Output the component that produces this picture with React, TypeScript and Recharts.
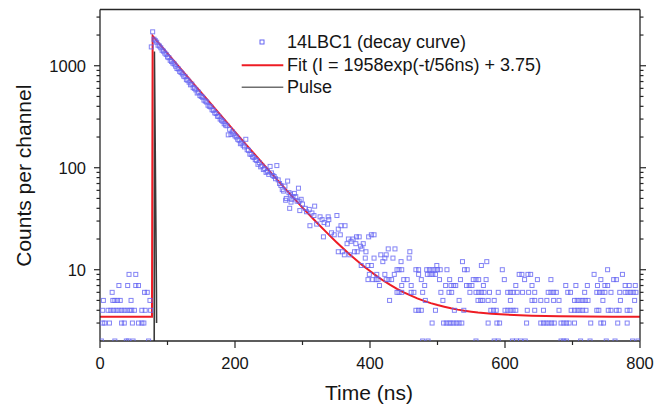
import React from 'react';
import { ComposedChart, Scatter, Line, XAxis, YAxis, Legend } from 'recharts';

// ---------- data ----------
// decay curve, dense part (time ns, counts)
const decayEarly: [number, number][] = [
  [76, 1530], [78, 2150], [80, 1820], [82, 1760], [84, 1700], [86, 1590], [88, 1560], [90, 1500],
  [92, 1420], [94, 1390], [96, 1330], [98, 1290], [100, 1220], [102, 1200], [104, 1130], [106, 1100],
  [108, 1060], [110, 1040], [112, 990], [114, 940], [116, 930], [118, 880], [120, 860], [122, 830],
  [124, 790], [126, 780], [128, 730], [130, 720], [132, 690], [134, 650], [136, 660], [138, 610],
  [140, 600], [142, 580], [144, 540], [146, 550], [148, 510], [150, 500], [152, 490], [154, 460],
  [156, 450], [158, 440], [160, 410], [162, 400], [164, 395], [166, 370], [168, 365], [170, 345],
  [172, 340], [174, 320], [176, 318], [178, 300], [180, 292], [182, 285], [184, 270], [186, 262],
  [188, 258], [190, 210], [192, 238], [194, 212], [196, 225], [198, 215], [200, 205], [202, 200],
  [204, 190], [206, 186], [208, 172], [210, 175], [212, 166], [214, 160], [216, 190], [218, 150],
  [220, 148], [222, 136], [224, 135], [226, 128], [228, 126], [230, 120], [232, 118], [234, 108],
  [236, 112], [238, 102], [240, 104], [242, 96], [244, 98], [246, 90], [248, 92], [250, 86],
];

const decayMid: [number, number][] = [
  [252, 103], [254, 89], [256, 84], [258, 82], [260, 78], [262, 105], [264, 76], [266, 70],
  [268, 67], [270, 61], [272, 59], [274, 66], [276, 50], [278, 74], [280, 57], [282, 55],
  [284, 49], [286, 52], [288, 56], [290, 52], [292, 47], [294, 63], [298, 49],
  [275, 48], [283, 46], [281, 40], [295, 47], [300, 44], [296, 38], [304, 40], [306, 37],
  [310, 39], [318, 42], [314, 36], [317, 34], [311, 27], [321, 28], [326, 33], [329, 31],
  [332, 29], [338, 33], [339, 31], [337, 28], [351, 34], [343, 23], [347, 22], [353, 25],
  [357, 27], [363, 27], [356, 22], [331, 21], [368, 20], [372, 19], [375, 20], [380, 21],
  [384, 21], [379, 18], [386, 17], [388, 16], [353, 15], [359, 15], [362, 14], [370, 14],
  [377, 15], [381, 15], [394, 15], [393, 13], [387, 11], [397, 11], [398, 21], [366, 18],
  [390, 18], [402, 22], [406, 22],
];

// low-count channels: times (ns) grouped by count level
const row2 = [2, 22, 39, 42, 49, 72, 478, 486, 557, 584, 590, 611, 617, 623, 630, 683, 687, 691, 712, 726, 750, 763, 789, 797];
const row3 = [4, 7, 14, 32, 36, 48, 57, 62, 65, 492, 509, 513, 517, 520, 524, 528, 532, 536, 575, 588, 592, 632, 653, 657, 661, 665, 669, 673, 683, 687, 691, 695, 703, 727, 742, 746, 767, 781];
const row4 = [4, 12, 16, 20, 24, 28, 32, 36, 40, 44, 47, 51, 62, 67, 75, 468, 472, 476, 497, 525, 539, 579, 583, 587, 600, 604, 608, 612, 616, 633, 644, 657, 680, 698, 703, 707, 711, 715, 720, 736, 739, 753, 757, 765, 769, 781, 785];
const row5 = [5, 19, 22, 26, 30, 46, 74, 429, 482, 508, 532, 560, 564, 567, 575, 584, 608, 640, 644, 653, 662, 672, 680, 703, 707, 711, 715, 719, 723, 745, 771, 792];
const row6 = [18, 66, 70, 440, 443, 447, 461, 465, 478, 505, 517, 521, 548, 557, 561, 565, 569, 577, 590, 604, 608, 612, 618, 626, 635, 644, 664, 668, 672, 676, 693, 697, 718, 736, 740, 744, 748, 757, 770, 778, 782, 786, 790, 794];
const row7 = [28, 41, 53, 57, 414, 447, 461, 481, 512, 520, 524, 527, 543, 547, 551, 568, 616, 640, 690, 705, 722, 737, 748, 752, 778, 784, 793];
const row8 = [397, 404, 409, 412, 424, 428, 432, 450, 455, 476, 503, 518, 534, 553, 557, 561, 572, 599, 629, 648, 668, 742, 761, 765];
const row9 = [43, 53, 399, 410, 422, 436, 472, 485, 489, 493, 497, 621, 625, 634, 638, 732, 774];
const row10 = [440, 443, 447, 468, 472, 484, 488, 492, 496, 500, 504, 514, 540, 544, 596, 752];
const row11 = [402, 499, 565];
const row12 = [419, 446, 537, 573];
const row13 = [406, 422, 434, 458];
const row14 = [416, 424];
const row15 = [459];
const row16 = [427, 437];

const levelRows: [number, number[]][] = [
  [2, row2], [3, row3], [4, row4], [5, row5], [6, row6], [7, row7], [8, row8], [9, row9],
  [10, row10], [11, row11], [12, row12], [13, row13], [14, row14], [15, row15], [16, row16],
];

// fitted curve (time ns, counts)
const fitPoints: [number, number][] = [
  [0, 3.45], [77, 3.45], [78, 1961], [100, 1325], [120, 928], [140, 650], [160, 456], [180, 320],
  [200, 225], [220, 158.5], [240, 112], [260, 79.4], [280, 56.6], [300, 40.6], [320, 29.5],
  [340, 21.7], [350, 18.7], [360, 16.2], [370, 14.1], [380, 12.4], [390, 10.9], [400, 9.7],
  [410, 8.66], [420, 7.8], [430, 7.1], [440, 6.5], [450, 6.0], [460, 5.6], [470, 5.24],
  [480, 4.95], [490, 4.7], [500, 4.5], [510, 4.33], [520, 4.18], [530, 4.06], [540, 3.96],
  [550, 3.88], [560, 3.81], [580, 3.7], [600, 3.63], [640, 3.54], [680, 3.49], [720, 3.47],
  [760, 3.46], [800, 3.45],
];

// excitation pulse (time ns, counts)
const pulsePoints: [number, number][] = [[80.3, 1], [80.6, 1380], [83.6, 6], [83.8, 3]];

const xTicks = [0, 100, 200, 300, 400, 500, 600, 700, 800];
const xMajor = [0, 200, 400, 600, 800];
const yTicks = [3, 4, 5, 6, 7, 8, 9, 10, 20, 30, 40, 50, 60, 70, 80, 90, 100, 200, 300, 400, 500, 600, 700, 800, 900, 1000, 2000, 3000];
const yMajor = [10, 100, 1000];

const legendLabels = ['14LBC1 (decay curve)', 'Fit (I = 1958exp(-t/56ns) + 3.75)', 'Pulse'];
const xTitle = 'Time (ns)';
const yTitle = 'Counts per channel';

// ---------- build series ----------
const scatterData = [
  ...decayEarly.map(([t, c]) => ({ t, c })),
  ...decayMid.map(([t, c]) => ({ t, c })),
  ...levelRows.flatMap(([c, ts]) => ts.map((t) => ({ t, c }))),
];
const fitData = fitPoints.map(([t, c]) => ({ t, c }));
const pulseData = pulsePoints.map(([t, c]) => ({ t, c }));

// ---------- styles ----------
const FONT = '"Liberation Sans", Arial, Helvetica, sans-serif';
const AXIS = '#262626';
const TEXT = '#151515';
const BLUE = '#6464f2';
const RED = '#ee1c24';
const PULSE = '#3a3a3a';
const PULSE_LEGEND = '#6e6e6e';

const yTick = (side: 'left' | 'right') => (props: any) => {
  const { x, y, payload } = props;
  const v = payload.value;
  const major = yMajor.includes(v);
  const len = major ? 6 : 3.5;
  const dir = side === 'left' ? -1 : 1;
  return (
    <g>
      <line x1={x} y1={y} x2={x + dir * len} y2={y} stroke={AXIS} strokeWidth={1.2} />
      {side === 'left' && major && (
        <text x={x - 14} y={y + 5.9} textAnchor="end" fontSize={16.5} fontFamily={FONT} fill={TEXT}>
          {v}
        </text>
      )}
    </g>
  );
};

const xTick = (side: 'top' | 'bottom') => (props: any) => {
  const { x, y, payload } = props;
  const v = payload.value;
  const major = xMajor.includes(v);
  const len = major ? 7 : 4;
  const dir = side === 'bottom' ? 1 : -1;
  return (
    <g>
      <line x1={x} y1={y} x2={x} y2={y + dir * len} stroke={AXIS} strokeWidth={1.2} />
      {side === 'bottom' && major && (
        <text x={x} y={y + 27.5} textAnchor="middle" fontSize={16.5} fontFamily={FONT} fill={TEXT}>
          {v}
        </text>
      )}
    </g>
  );
};

const squareShape = (props: any) => {
  const { cx, cy } = props;
  if (cx == null || cy == null) return <g />;
  return (
    <rect x={cx - 2} y={cy - 2} width={4} height={4} fill="none" stroke={BLUE} strokeWidth={1} strokeOpacity={0.8} />
  );
};

const LegendBox = () => (
  <svg width={430} height={80} style={{ display: 'block', overflow: 'visible' }}>
    <rect x={25} y={12} width={4} height={4} fill="none" stroke={BLUE} strokeWidth={1} />
    <text x={52} y={20.3} fontSize={18} fontFamily={FONT} fill={TEXT}>{legendLabels[0]}</text>
    <line x1={6.7} y1={37.3} x2={48.3} y2={37.3} stroke={RED} strokeWidth={2} />
    <text x={52} y={43} fontSize={18} fontFamily={FONT} fill={TEXT}>{legendLabels[1]}</text>
    <line x1={6.7} y1={59.3} x2={48.3} y2={59.3} stroke={PULSE_LEGEND} strokeWidth={1.4} />
    <text x={52} y={64.7} fontSize={18} fontFamily={FONT} fill={TEXT}>{legendLabels[2]}</text>
  </svg>
);

export default function App() {
  return (
    <div style={{ position: 'absolute', left: 0, top: 0, width: 665, height: 408, background: '#fff' }}>
      <ComposedChart width={665} height={408} margin={{ top: 0, right: 0, bottom: 0, left: 0 }}>
        <XAxis
          dataKey="t"
          type="number"
          domain={[0, 800]}
          allowDataOverflow
          ticks={xTicks}
          interval={0}
          height={67}
          tickSize={0}
          tickMargin={0}
          tick={xTick('bottom')}
          tickLine={false}
          axisLine={{ stroke: AXIS, strokeWidth: 1.3 }}
          label={{
            content: () => (
              <text x={369} y={400} textAnchor="middle" fontSize={21} fontFamily={FONT} fill={TEXT}>
                {xTitle}
              </text>
            ),
          }}
        />
        <XAxis
          xAxisId="top"
          orientation="top"
          type="number"
          domain={[0, 800]}
          allowDataOverflow
          ticks={xTicks}
          interval={0}
          height={9.5}
          tickSize={0}
          tickMargin={0}
          tick={xTick('top')}
          tickLine={false}
          axisLine={{ stroke: AXIS, strokeWidth: 1.3 }}
        />
        <YAxis
          dataKey="c"
          type="number"
          scale="log"
          domain={[2, 3560]}
          allowDataOverflow
          ticks={yTicks}
          interval={0}
          width={100}
          tickSize={0}
          tickMargin={0}
          tick={yTick('left')}
          tickLine={false}
          axisLine={{ stroke: AXIS, strokeWidth: 1.3 }}
          label={{
            content: () => (
              <text
                x={31}
                y={175.7}
                transform="rotate(-90 31 175.7)"
                textAnchor="middle"
                fontSize={21}
                fontFamily={FONT}
                fill={TEXT}
              >
                {yTitle}
              </text>
            ),
          }}
        />
        <YAxis
          yAxisId="right"
          orientation="right"
          type="number"
          scale="log"
          domain={[2, 3560]}
          allowDataOverflow
          ticks={yTicks}
          interval={0}
          width={25}
          tickSize={0}
          tickMargin={0}
          tick={yTick('right')}
          tickLine={false}
          axisLine={{ stroke: AXIS, strokeWidth: 1.3 }}
        />
        <Scatter data={scatterData} dataKey="c" shape={squareShape} isAnimationActive={false} />
        <Line data={pulseData} dataKey="c" type="linear" stroke={PULSE} strokeWidth={1.6} dot={false} isAnimationActive={false} />
        <Line data={fitData} dataKey="c" type="linear" stroke={RED} strokeWidth={2} dot={false} isAnimationActive={false} />
        <Legend
          layout="vertical"
          align="center"
          verticalAlign="middle"
          wrapperStyle={{ position: 'absolute', left: 235, top: 28, width: 430, height: 80 }}
          content={() => <LegendBox />}
        />
      </ComposedChart>
    </div>
  );
}
